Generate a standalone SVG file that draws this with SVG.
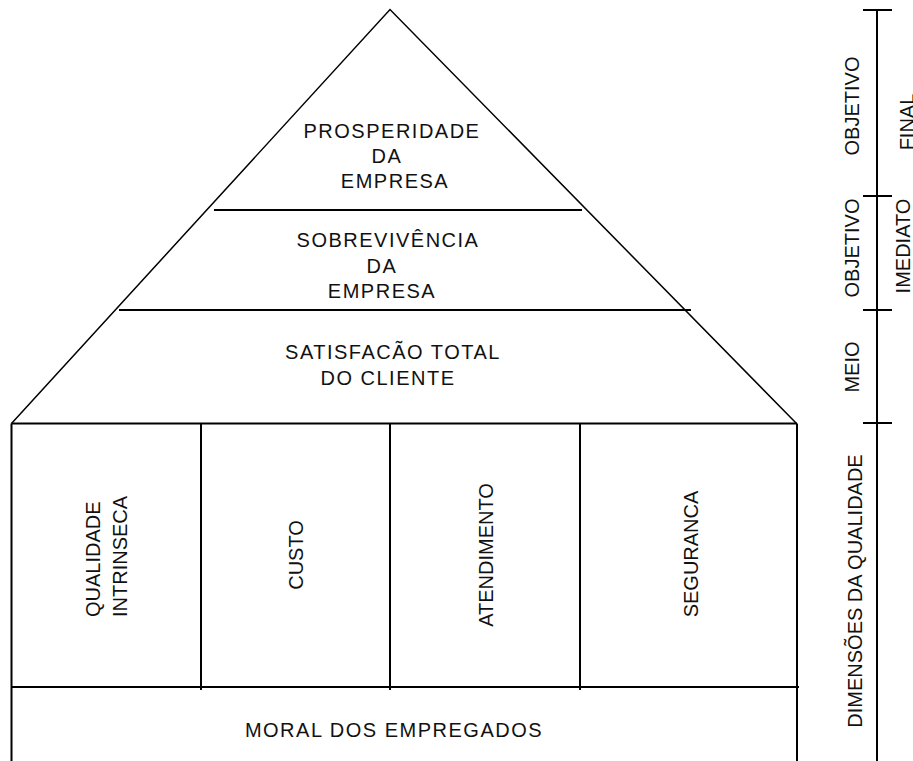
<svg xmlns="http://www.w3.org/2000/svg" width="913" height="761" viewBox="0 0 913 761">
  <style>
    .bg { fill: #ffffff; }
    .thin { stroke: #000; stroke-width: 1.5; fill: none; }
    .ln { stroke: #000; stroke-width: 2; fill: none; }
    text { font-family: "Liberation Sans", Arial, sans-serif; font-size: 20px; fill: #111; }
    .h { text-anchor: middle; letter-spacing: 1.5px; }
    .v { text-anchor: middle; }
    .vs { text-anchor: start; }
  </style>
  <rect class="bg" x="0" y="0" width="913" height="761"/>

  <g id="roof">
    <polyline class="thin" points="11.5,423.5 390,9.5 796.5,423.5"/>
  </g>

  <g id="prosperidade">
    <text class="h" x="392" y="138">PROSPERIDADE</text>
    <text class="h" x="387" y="163">DA</text>
    <text class="h" x="395" y="188">EMPRESA</text>
  </g>

  <g id="sobrevivencia">
    <text class="h" x="388" y="247">SOBREVIVÊNCIA</text>
    <text class="h" x="382" y="273">DA</text>
    <text class="h" x="382" y="298">EMPRESA</text>
  </g>

  <g id="satisfacao">
    <text class="h" x="393" y="359">SATISFACÃO TOTAL</text>
    <text class="h" x="388" y="385">DO CLIENTE</text>
  </g>

  <g id="qualidade-intrinseca">
    <text class="vs" transform="translate(100,617) rotate(-90)">QUALIDADE</text>
    <text class="vs" transform="translate(126.5,617) rotate(-90)">INTRINSECA</text>
  </g>
  <g id="custo">
    <text class="v" transform="translate(302.5,555) rotate(-90)">CUSTO</text>
  </g>
  <g id="atendimento">
    <text class="v" transform="translate(493,555) rotate(-90)">ATENDIMENTO</text>
  </g>
  <g id="seguranca">
    <text class="v" transform="translate(698,554) rotate(-90)">SEGURANCA</text>
  </g>

  <g id="moral">
    <text class="h" x="394" y="737">MORAL DOS EMPREGADOS</text>
  </g>

  <g id="scale">
    <text class="v" transform="translate(859,106) rotate(-90)">OBJETIVO</text>
    <text class="v" transform="translate(914,122) rotate(-90)">FINAL</text>
    <text class="v" transform="translate(859,248) rotate(-90)">OBJETIVO</text>
    <text class="v" transform="translate(910,246) rotate(-90)">IMEDIATO</text>
    <text class="v" transform="translate(859,367) rotate(-90)">MEIO</text>
    <text class="v" transform="translate(862,591) rotate(-90)">DIMENSÕES DA QUALIDADE</text>
  </g>

  <g id="connectors">
    <line class="ln" x1="214" y1="210" x2="582" y2="210"/>
    <line class="ln" x1="119" y1="310" x2="691" y2="310"/>
    <line class="ln" x1="11.5" y1="423.5" x2="797" y2="423.5"/>
    <line class="ln" x1="11.5" y1="423.5" x2="11.5" y2="761"/>
    <line class="ln" x1="797" y1="423.5" x2="797" y2="761"/>
    <line class="ln" x1="201" y1="423.5" x2="201" y2="690"/>
    <line class="ln" x1="390" y1="423.5" x2="390" y2="690"/>
    <line class="ln" x1="580" y1="423.5" x2="580" y2="690"/>
    <line class="ln" x1="11.5" y1="687" x2="799" y2="687"/>
    <line class="ln" x1="877" y1="10" x2="877" y2="761"/>
    <line class="ln" x1="863" y1="10" x2="892" y2="10"/>
    <line class="ln" x1="863" y1="196" x2="892" y2="196"/>
    <line class="ln" x1="863" y1="310" x2="892" y2="310"/>
    <line class="ln" x1="863" y1="423" x2="892" y2="423"/>
  </g>
</svg>
